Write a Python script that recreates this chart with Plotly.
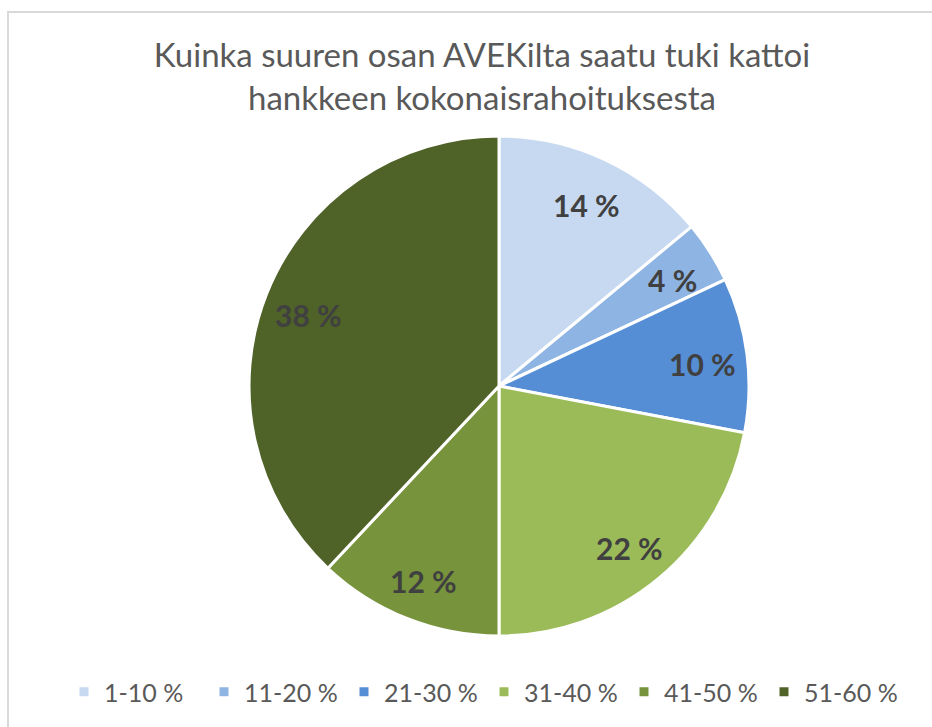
import math
import plotly.graph_objects as go

categories = ["1-10 %", "11-20 %", "21-30 %", "31-40 %", "41-50 %", "51-60 %"]
values = [14, 4, 10, 22, 12, 38]
colors = ["#C6D9F1", "#8EB4E3", "#558ED5", "#9BBB59", "#77933C", "#4F6228"]
title_text = "Kuinka suuren osan AVEKilta saatu tuki kattoi<br>hankkeen kokonaisrahoituksesta"

W, H = 932, 727
cx, cy, R = 499, 386, 250

fig = go.Figure(go.Pie(
    labels=categories,
    values=values,
    marker=dict(colors=colors, line=dict(color="white", width=3)),
    sort=False,
    direction="clockwise",
    rotation=0,
    textinfo="none",
    hoverinfo="label+percent",
    domain=dict(x=[(cx - R) / W, (cx + R) / W], y=[1 - (cy + R) / H, 1 - (cy - R) / H]),
))

# data labels at ~0.82 R along each slice's mid-angle
total = sum(values)
cum = 0
annotations = []
for v in values:
    mid = (cum + v / 2) / total * 2 * math.pi
    cum += v
    r = 0.82 * R
    px = cx + r * math.sin(mid)
    py = cy - r * math.cos(mid) + 4
    annotations.append(dict(
        x=px / W, y=1 - py / H, xref="paper", yref="paper",
        text=f"<b>{round(v / total * 100)} %</b>", showarrow=False,
        font=dict(family="Lato", size=30, color="#404040"),
        xanchor="center", yanchor="middle",
    ))

fig.update_layout(
    width=W, height=H,
    margin=dict(l=0, r=0, t=0, b=0),
    paper_bgcolor="white",
    plot_bgcolor="white",
    title=dict(text=title_text, x=482 / W, xanchor="center", y=1 - 67 / H, yanchor="middle",
               font=dict(family="Lato", size=33, color="#595959")),
    showlegend=True,
    legend=dict(orientation="h", x=484 / W, xanchor="center", y=1 - 692 / H, yanchor="middle",
                font=dict(family="Lato", size=25, color="#595959"),
                entrywidth=95, entrywidthmode="pixels", itemwidth=30),
    annotations=annotations,
    shapes=[dict(type="rect", xref="paper", yref="paper",
                 x0=8 / W, x1=1.05, y0=-0.05, y1=1 - 12 / H,
                 line=dict(color="#D9D9D9", width=2), fillcolor="rgba(0,0,0,0)")],
)

fig.write_html("out.html", config={"displayModeBar": False},
               post_script="document.body.style.margin='0';")
